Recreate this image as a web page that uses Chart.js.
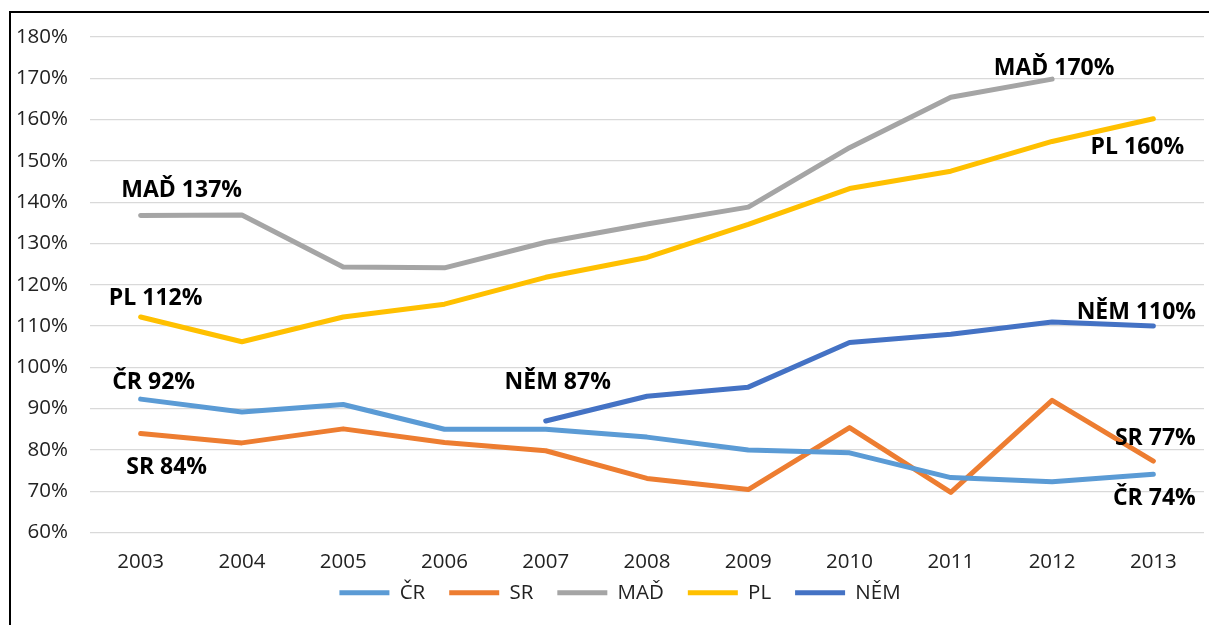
<!DOCTYPE html>
<html>
<head>
<meta charset="utf-8">
<script src="https://cdn.jsdelivr.net/npm/chart.js@4/dist/chart.umd.min.js"></script>
<style>
  html, body { margin: 0; padding: 0; background: #fff; overflow: hidden; }
  #wrap { position: relative; width: 1209px; height: 625px; }
  #frame { position: absolute; left: 9px; top: 11px; width: 1400px; height: 800px;
           border: 2px solid #000; pointer-events: none; }
  canvas { position: absolute; left: 0; top: 0; }
</style>
</head>
<body>
<div id="wrap">
  <div id="frame"></div>
  <canvas id="chart" width="1209" height="625"></canvas>
</div>
<script>
const years = ["2003", "2004", "2005", "2006", "2007", "2008", "2009", "2010", "2011", "2012", "2013"];
const seriesNames = ["ČR", "SR", "MAĎ", "PL", "NĚM"];

const crValues  = [92.3, 89.2, 91.0, 85.0, 85.0, 83.1, 80.0, 79.3, 73.3, 72.3, 74.1];
const srValues  = [84.0, 81.7, 85.1, 81.8, 79.8, 73.1, 70.4, 85.4, 69.7, 92.0, 77.3];
const madValues = [136.8, 136.9, 124.3, 124.1, 130.3, 134.7, 138.8, 153.2, 165.4, 169.8, null];
const plValues  = [112.2, 106.2, 112.2, 115.3, 121.8, 126.6, 134.6, 143.3, 147.5, 154.7, 160.2];
const nemValues = [null, null, null, null, 87.0, 93.0, 95.2, 106.0, 108.0, 111.0, 110.0];

const colors = ["#5B9BD5", "#ED7D31", "#A5A5A5", "#FFC000", "#4472C4"];

// which point gets a text label, and where the text sits relative to it
const pointLabels = [
  { ds: 2, i: 0,  dx: 41,  dy: -25 },
  { ds: 3, i: 0,  dx: 15,  dy: -19 },
  { ds: 0, i: 0,  dx: 13,  dy: -17 },
  { ds: 1, i: 0,  dx: 26,  dy: 34 },
  { ds: 4, i: 4,  dx: 12,  dy: -39 },
  { ds: 2, i: 9,  dx: 2,   dy: -11 },
  { ds: 3, i: 10, dx: -16, dy: 29 },
  { ds: 4, i: 10, dx: -17, dy: -14 },
  { ds: 1, i: 10, dx: 2,   dy: -23 },
  { ds: 0, i: 10, dx: 1,   dy: 24 }
];

const allValues = [crValues, srValues, madValues, plValues, nemValues];

const labelPlugin = {
  id: "pointText",
  afterLayout(chart) {
    // legend sits a bit right of the canvas centre in the original
    chart.legend.left += 52;
  },
  afterDatasetsDraw(chart) {
    const ctx = chart.ctx;
    ctx.save();
    ctx.font = "bold 23px 'Open Sans'";
    ctx.fillStyle = "#000";
    ctx.textAlign = "center";
    ctx.textBaseline = "middle";
    pointLabels.forEach(l => {
      const v = chart.data.datasets[l.ds].data[l.i];
      const x = chart.scales.x.getPixelForValue(l.i);
      const y = chart.scales.y.getPixelForValue(v);
      ctx.fillText(seriesNames[l.ds] + " " + Math.round(v) + "%", x + l.dx, y + l.dy);
    });
    ctx.restore();
  }
};

const ctx = document.getElementById("chart").getContext("2d");
new Chart(ctx, {
  type: "line",
  data: {
    labels: years,
    datasets: allValues.map((vals, k) => ({
      label: seriesNames[k],
      data: vals,
      borderColor: colors[k],
      backgroundColor: colors[k],
      borderWidth: 5,
      borderCapStyle: "round",
      borderJoinStyle: "round",
      pointRadius: 0,
      pointStyle: "line",
      tension: 0,
      spanGaps: false
    }))
  },
  options: {
    responsive: false,
    animation: false,
    layout: { padding: { left: 0, right: 5, top: 37, bottom: 12 } },
    scales: {
      x: {
        offset: true,
        afterFit: (axis) => { axis.height = 42; },
        grid: { display: false, drawTicks: false },
        border: { display: false },
        ticks: { color: "#222", padding: 17, font: { family: "Open Sans", size: 20.5 } }
      },
      y: {
        min: 60,
        max: 180,
        afterFit: (axis) => { axis.width = 90; },
        grid: { color: "#D9D9D9", lineWidth: 1.3, drawTicks: false },
        border: { display: false },
        ticks: {
          stepSize: 10,
          color: "#222",
          padding: 22,
          font: { family: "Open Sans", size: 20.5 },
          callback: (v) => v + "%"
        }
      }
    },
    plugins: {
      tooltip: { enabled: false },
      legend: {
        position: "bottom",
        labels: {
          usePointStyle: true,
          pointStyleWidth: 50,
          padding: 8,
          color: "#222",
          font: { family: "Open Sans", size: 20.5 },
          generateLabels: (chart) => {
            const items = Chart.defaults.plugins.legend.labels.generateLabels(chart);
            items.forEach(it => { it.text = it.text + "   "; });
            return items;
          }
        }
      }
    }
  },
  plugins: [labelPlugin]
});
</script>
</body>
</html>
